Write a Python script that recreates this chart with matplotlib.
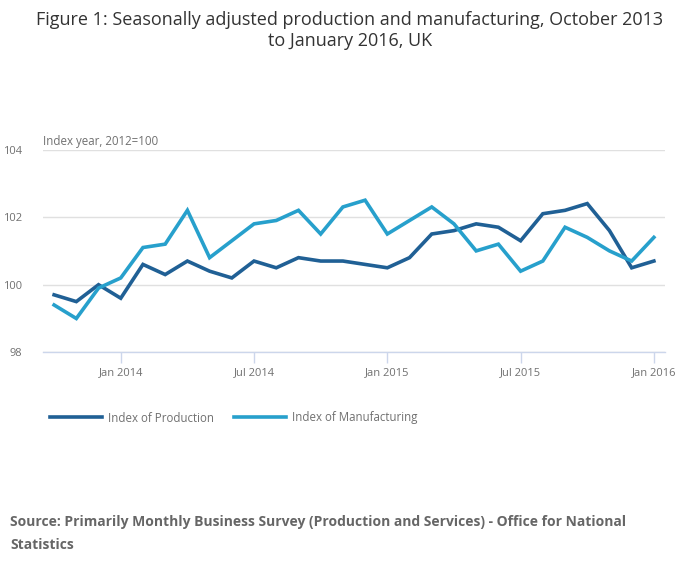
import matplotlib
matplotlib.use("Agg")
import matplotlib.pyplot as plt
from matplotlib.lines import Line2D

plt.rcParams['font.family'] = ['Open Sans', 'DejaVu Sans']

months = ["Oct 2013", "Nov 2013", "Dec 2013",
          "Jan 2014", "Feb 2014", "Mar 2014", "Apr 2014", "May 2014", "Jun 2014",
          "Jul 2014", "Aug 2014", "Sep 2014", "Oct 2014", "Nov 2014", "Dec 2014",
          "Jan 2015", "Feb 2015", "Mar 2015", "Apr 2015", "May 2015", "Jun 2015",
          "Jul 2015", "Aug 2015", "Sep 2015", "Oct 2015", "Nov 2015", "Dec 2015",
          "Jan 2016"]
production = [99.7, 99.5, 100.0,
              99.6, 100.6, 100.3, 100.7, 100.4, 100.2,
              100.7, 100.5, 100.8, 100.7, 100.7, 100.6,
              100.5, 100.8, 101.5, 101.6, 101.8, 101.7,
              101.3, 102.1, 102.2, 102.4, 101.6, 100.5,
              100.7]
manufacturing = [99.4, 99.0, 99.9,
                 100.2, 101.1, 101.2, 102.2, 100.8, 101.3,
                 101.8, 101.9, 102.2, 101.5, 102.3, 102.5,
                 101.5, 101.9, 102.3, 101.8, 101.0, 101.2,
                 100.4, 100.7, 101.7, 101.4, 101.0, 100.7,
                 101.4]
tick_labels = ["Jan 2014", "Jul 2014", "Jan 2015", "Jul 2015", "Jan 2016"]
y_ticks = [98, 100, 102, 104]

DARK = "#206095"
LIGHT = "#27a0cc"
GREY = "#707070"

fig = plt.figure(figsize=(7.0, 5.74), dpi=100)
ax = fig.add_axes([43/700, 1 - 352.3/574, (665-43)/700, (352.3-149.5)/574])

x = list(range(len(months)))
ax.plot(x, production, color=DARK, lw=2.6, solid_joinstyle='miter', label="Index of Production")
ax.plot(x, manufacturing, color=LIGHT, lw=2.6, solid_joinstyle='miter', label="Index of Manufacturing")

ax.set_xlim(-0.5, len(months) - 0.5)
ax.set_ylim(98, 104)
ax.set_yticks(y_ticks)
ax.set_yticklabels([str(v) for v in y_ticks])
ax.set_xticks([months.index(t) for t in tick_labels])
ax.set_xticklabels(tick_labels)

ax.grid(axis='y', color='#e0e0e0', lw=1)
ax.set_axisbelow(True)
for s in ['top', 'right', 'left']:
    ax.spines[s].set_visible(False)
ax.spines['bottom'].set_color('#ccd6eb')
ax.spines['bottom'].set_linewidth(1)
ax.tick_params(axis='x', colors='#ccd6eb', length=8, width=1, labelcolor=GREY, labelsize=8, pad=3)
ax.tick_params(axis='y', length=0, labelcolor=GREY, labelsize=8, pad=15)

fig.text(43/700, 1 - 142/574, "Index year, 2012=100", color=GREY, fontsize=8.3,
         ha='left', va='center')

fig.text(0.5, 1 - 20/574, "Figure 1: Seasonally adjusted production and manufacturing, October 2013",
         ha='center', va='center', fontsize=13.0, color='#333333')
fig.text(0.5, 1 - 41/574, "to January 2016, UK",
         ha='center', va='center', fontsize=13.0, color='#333333')

handles = [Line2D([], [], color=DARK, lw=2.6), Line2D([], [], color=LIGHT, lw=2.6)]
leg = fig.legend(handles, ["Index of Production", "Index of Manufacturing"],
                 loc='center left', bbox_to_anchor=(40/700, 1 - 418/574), ncol=2, frameon=False,
                 fontsize=8.3, handlelength=4.5, handletextpad=0.5, columnspacing=1.75,
                 labelcolor=GREY)

fig.text(10/700, 1 - 522/574, "Source: Primarily Monthly Business Survey (Production and Services) - Office for National",
         ha='left', va='center', fontsize=10, fontweight='bold', color='#666666')
fig.text(10/700, 1 - 545/574, "Statistics",
         ha='left', va='center', fontsize=10, fontweight='bold', color='#666666')

fig.savefig("out.png", dpi=100)
